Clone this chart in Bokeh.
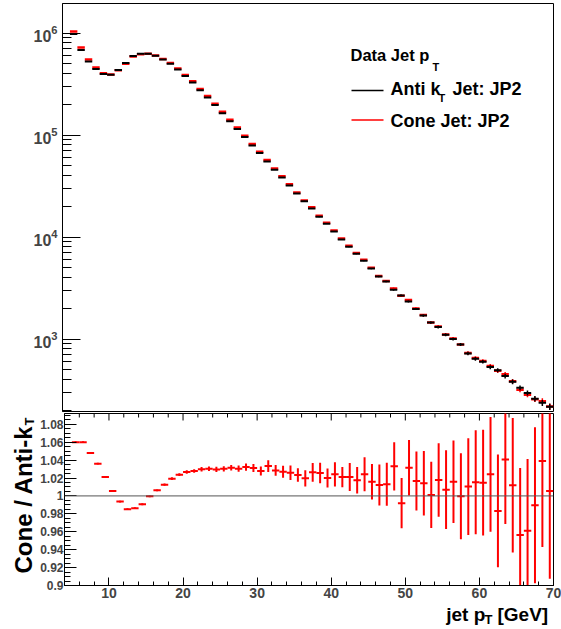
import math
from bokeh.plotting import figure
from bokeh.models import (Range1d, FixedTicker, SingleIntervalTicker,
                          Span, Label, ColumnDataSource, PrintfTickFormatter)
from bokeh.layouts import column, row
from bokeh.embed import file_html
from bokeh.resources import INLINE

# ---------------- data ----------------
bin_low = list(range(5, 70))  # jet pT bins [GeV], width 1

antikt = [9.78e5, 6.81e5, 5.27e5, 4.44e5, 3.96e5, 3.90e5, 4.34e5, 5.08e5, 5.96e5, 6.27e5,
          6.27e5, 5.99e5, 5.51e5, 5.00e5, 4.40e5, 3.79e5, 3.28e5, 2.75e5, 2.34e5, 1.97e5,
          1.64e5, 1.37e5, 1.15e5, 9.55e4, 7.91e4, 6.67e4, 5.51e4, 4.57e4, 3.84e4, 3.21e4,
          2.68e4, 2.25e4, 1.91e4, 1.58e4, 1.35e4, 1.135e4, 9470, 8030, 6860, 5860,
          4920, 4110, 3670, 3040, 2680, 2340, 1970, 1700, 1450, 1310,
          1100, 1000, 887, 723, 641, 600, 531, 496, 434, 381,
          333, 296, 260, 237, 217]

cone = [1.037e6, 7.22e5, 5.52e5, 4.60e5, 4.04e5, 3.92e5, 4.31e5, 5.01e5, 5.88e5, 6.21e5,
        6.27e5, 6.03e5, 5.58e5, 5.10e5, 4.50e5, 3.89e5, 3.37e5, 2.83e5, 2.41e5, 2.03e5,
        1.69e5, 1.41e5, 1.185e5, 9.86e4, 8.16e4, 6.86e4, 5.69e4, 4.70e4, 3.94e4, 3.29e4,
        2.74e4, 2.29e4, 1.96e4, 1.62e4, 1.38e4, 1.162e4, 9670, 8200, 6980, 6000,
        5000, 4160, 3720, 3140, 2660, 2410, 2000, 1720, 1450, 1330,
        1110, 1016, 887, 731, 651, 609, 544, 488, 452, 386,
        318, 285, 257, 246, 218]

# relative statistical uncertainty of each spectrum
spec_rel_err = [0.001, 0.001, 0.001, 0.001, 0.001, 0.001, 0.001, 0.001, 0.001, 0.001,
                0.001, 0.001, 0.001, 0.001, 0.001, 0.0015, 0.0015, 0.002, 0.002, 0.002,
                0.0022, 0.0022, 0.0025, 0.003, 0.003, 0.0035, 0.0045, 0.0045, 0.005, 0.0055,
                0.0055, 0.0065, 0.0075, 0.008, 0.0075, 0.0095, 0.008, 0.011, 0.0105, 0.0135,
                0.014, 0.0165, 0.017, 0.019, 0.02, 0.022, 0.023, 0.025, 0.026, 0.029,
                0.031, 0.033, 0.034, 0.038, 0.041, 0.042, 0.045, 0.045, 0.051, 0.053,
                0.053, 0.056, 0.062, 0.068, 0.069]

ratio = [1.060, 1.060, 1.048, 1.036, 1.021, 1.0056, 0.9937, 0.9852, 0.9863, 0.9907,
         0.9996, 1.0063, 1.0126, 1.0193, 1.0237, 1.0267, 1.0278, 1.0298, 1.0304, 1.0296,
         1.0302, 1.0315, 1.0304, 1.0322, 1.0311, 1.0278, 1.0333, 1.0285, 1.027, 1.0259,
         1.0233, 1.0196, 1.0263, 1.0256, 1.020, 1.0241, 1.0211, 1.0211, 1.0174, 1.0241,
         1.0159, 1.0122, 1.013, 1.033, 0.9919, 1.0315, 1.0167, 1.0141, 1.0011, 1.0178,
         1.007, 1.0159, 0.9996, 1.0104, 1.0152, 1.0148, 1.0241, 0.9833, 1.0407, 1.0119,
         0.9563, 0.9611, 0.9896, 1.0389, 1.0056]

ratio_err = [0.001, 0.001, 0.001, 0.001, 0.001, 0.001, 0.001, 0.001, 0.001, 0.001,
             0.001, 0.001, 0.0012, 0.0014, 0.0016, 0.002, 0.002, 0.0025, 0.0025, 0.003,
             0.003, 0.003, 0.0035, 0.004, 0.0045, 0.005, 0.0065, 0.006, 0.0068, 0.008,
             0.0075, 0.009, 0.0105, 0.0115, 0.0105, 0.0135, 0.0113, 0.0157, 0.0148, 0.019,
             0.0198, 0.023, 0.024, 0.027, 0.028, 0.031, 0.033, 0.036, 0.037, 0.041,
             0.044, 0.046, 0.048, 0.054, 0.058, 0.059, 0.064, 0.063, 0.072, 0.075,
             0.075, 0.080, 0.087, 0.096, 0.098]

y_ticks_ratio = [0.90, 0.92, 0.94, 0.96, 0.98, 1.00, 1.02, 1.04, 1.06, 1.08]
y_ticks_log = [1e3, 1e4, 1e5, 1e6]
x_major_ticks = [10, 20, 30, 40, 50, 60, 70]
x_minor_ticks = [4, 6, 8, 12, 14, 16, 18, 22, 24, 26, 28, 32, 34, 36, 38,
                 42, 44, 46, 48, 52, 54, 56, 58, 62, 64, 66, 68]

# ---------------- layout constants ----------------
FONT = "Liberation Sans"
W, H = 561, 629
L, R = 62, 553
XLO, XHI = 4, 70
TOP_H, TOP_FT, TOP_FB = 413, 3, 411
YLO, YHI = 195, 1.95e6
BOT_FT, BOT_FB = 413, 585          # ratio frame, page pixels
YT_W = 37                          # width of the strip holding the rotated y title
P2_H = 190                         # ratio figure height (frame + tick labels)
XT_H = H - TOP_H - P2_H            # strip holding the x title
RLO, RHI = 0.9, 1.092
RED = "#ff0000"
MID = 0.35                         # baseline -> vertical middle of the text, in em


def px_x(px):
    return XLO + (px - L) * (XHI - XLO) / (R - L)


def top_y(py):
    a, b = math.log10(YHI), math.log10(YLO)
    return 10 ** (a - (py - TOP_FT) * (a - b) / (TOP_FB - TOP_FT))


def make_label(x, y, text, size, angle=0.0):
    return Label(x=x, y=y, text=text, angle=angle, text_font=FONT,
                 text_font_style="bold", text_font_size=f"{size}px", text_color="black",
                 text_align="left", text_baseline="middle")


def text_strip(w, h):
    f = figure(width=w, height=h, x_range=Range1d(0, w), y_range=Range1d(0, h),
               x_axis_location=None, y_axis_location=None, output_backend="svg",
               toolbar_location=None, min_border=0)
    f.grid.grid_line_color = None
    f.outline_line_color = None
    f.background_fill_color = "white"
    f.border_fill_color = "white"
    return f


# ---------------- top panel ----------------
p1 = figure(width=W, height=TOP_H, x_range=Range1d(XLO, XHI), y_range=Range1d(YLO, YHI),
            y_axis_type="log", x_axis_location=None, output_backend="svg",
            toolbar_location=None, min_border_left=L, min_border_right=W - R,
            min_border_top=TOP_FT, min_border_bottom=TOP_H - TOP_FB)
p1.grid.grid_line_color = None
p1.outline_line_color = "black"
p1.background_fill_color = "white"
p1.border_fill_color = "white"

ya = p1.yaxis[0]
ya.ticker = FixedTicker(ticks=y_ticks_log,
                        minor_ticks=[m * 10 ** k for k in range(2, 7) for m in range(2, 10)])
ya.major_tick_in, ya.major_tick_out = 18, 0
ya.minor_tick_in, ya.minor_tick_out = 9, 0
ya.major_label_text_font = FONT
ya.major_label_text_font_style = "bold"
ya.major_label_text_font_size = "16px"
ya.major_label_standoff = 5
ya.axis_line_color = "black"


def spectrum_source(vals):
    return ColumnDataSource(dict(
        x0=bin_low, x1=[b + 1 for b in bin_low], y=vals, xc=[b + 0.5 for b in bin_low],
        ylo=[v * (1 - e) for v, e in zip(vals, spec_rel_err)],
        yhi=[v * (1 + e) for v, e in zip(vals, spec_rel_err)]))


for vals, col, lw in ((cone, RED, 2.5), (antikt, "black", 2)):
    src = spectrum_source(vals)
    p1.segment(x0="x0", x1="x1", y0="y", y1="y", source=src, line_color=col, line_width=lw)
    p1.segment(x0="xc", x1="xc", y0="ylo", y1="yhi", source=src, line_color=col, line_width=1.5)


def top_text(px, baseline_py, text, size):
    p1.add_layout(make_label(px_x(px), top_y(baseline_py - MID * size), text, size))


# legend
p1.segment(x0=[px_x(351)], x1=[px_x(383)], y0=[top_y(90)], y1=[top_y(90)],
           line_color="black", line_width=1.5)
p1.segment(x0=[px_x(351)], x1=[px_x(383)], y0=[top_y(119.5)], y1=[top_y(119.5)],
           line_color=RED, line_width=1.5)
top_text(350, 60, "Data Jet p", 16.5)
top_text(432, 70, "T", 11)
top_text(390, 94.5, "Anti k", 18)
top_text(438, 101.5, "T", 11)
top_text(452, 94.5, "Jet: JP2", 18)
top_text(390, 126.5, "Cone Jet: JP2", 18)

# ---------------- ratio panel ----------------
p2 = figure(width=W - YT_W, height=P2_H, x_range=p1.x_range, y_range=Range1d(RLO, RHI),
            output_backend="svg", toolbar_location=None, min_border_left=L - YT_W,
            min_border_right=W - R, min_border_top=0,
            min_border_bottom=P2_H - (BOT_FB - BOT_FT))
p2.grid.grid_line_color = None
p2.outline_line_color = "black"
p2.background_fill_color = "white"
p2.border_fill_color = "white"

xa = p2.xaxis[0]
xa.ticker = SingleIntervalTicker(interval=10, num_minor_ticks=5)
xa.major_tick_in, xa.major_tick_out = 8, 0
xa.minor_tick_in, xa.minor_tick_out = 4, 0
xa.major_label_text_font = FONT
xa.major_label_text_font_style = "bold"
xa.major_label_text_font_size = "14px"
xa.major_label_standoff = 2

yb = p2.yaxis[0]
yb.ticker = FixedTicker(ticks=y_ticks_ratio,
                        minor_ticks=[round(0.9 + 0.005 * i, 3) for i in range(0, 39)])
yb.formatter = PrintfTickFormatter(format="%g")
yb.major_tick_in, yb.major_tick_out = 12, 0
yb.minor_tick_in, yb.minor_tick_out = 6, 0
yb.major_label_text_font = FONT
yb.major_label_text_font_style = "bold"
yb.major_label_text_font_size = "12px"
yb.major_label_standoff = 1

# tick marks along the top edge of the ratio frame
per_px = (RHI - RLO) / (BOT_FB - BOT_FT)
p2.segment(x0=x_major_ticks, x1=x_major_ticks, y0=[RHI] * len(x_major_ticks),
           y1=[RHI - 7 * per_px] * len(x_major_ticks), line_color="black", line_width=1)
p2.segment(x0=x_minor_ticks, x1=x_minor_ticks, y0=[RHI] * len(x_minor_ticks),
           y1=[RHI - 4 * per_px] * len(x_minor_ticks), line_color="black", line_width=1)

p2.add_layout(Span(location=1.0, dimension="width", line_color="#555555", line_width=1))

rsrc = ColumnDataSource(dict(
    x0=bin_low, x1=[b + 1 for b in bin_low], xc=[b + 0.5 for b in bin_low], y=ratio,
    ylo=[r - e for r, e in zip(ratio, ratio_err)],
    yhi=[r + e for r, e in zip(ratio, ratio_err)]))
p2.segment(x0="x0", x1="x1", y0="y", y1="y", source=rsrc, line_color=RED, line_width=2)
p2.segment(x0="xc", x1="xc", y0="ylo", y1="yhi", source=rsrc, line_color=RED, line_width=2)

# ---------------- axis titles (text strips, 1 data unit = 1 pixel) ----------------
ytitle = text_strip(YT_W, H - TOP_H)          # page x 0..37, y 413..629
ytitle.add_layout(make_label(31 - MID * 24, H - 573, "Cone / Anti-k", 24, angle=math.pi / 2))
ytitle.add_layout(make_label(33.5 - MID * 13, H - 425, "T", 13, angle=math.pi / 2))

xtitle = text_strip(W - YT_W, XT_H)           # page x 37..561, y 603..629
xtitle.add_layout(make_label(446 - YT_W, H - (620.5 - MID * 19), "jet p", 19))
xtitle.add_layout(make_label(487 - YT_W, H - (624 - MID * 13), "T", 13))
xtitle.add_layout(make_label(501 - YT_W, H - (620.5 - MID * 19), "[GeV]", 19))

layout = column(p1, row(ytitle, column(p2, xtitle, spacing=0), spacing=0), spacing=0)
open("out.html", "w").write(file_html(layout, INLINE))
